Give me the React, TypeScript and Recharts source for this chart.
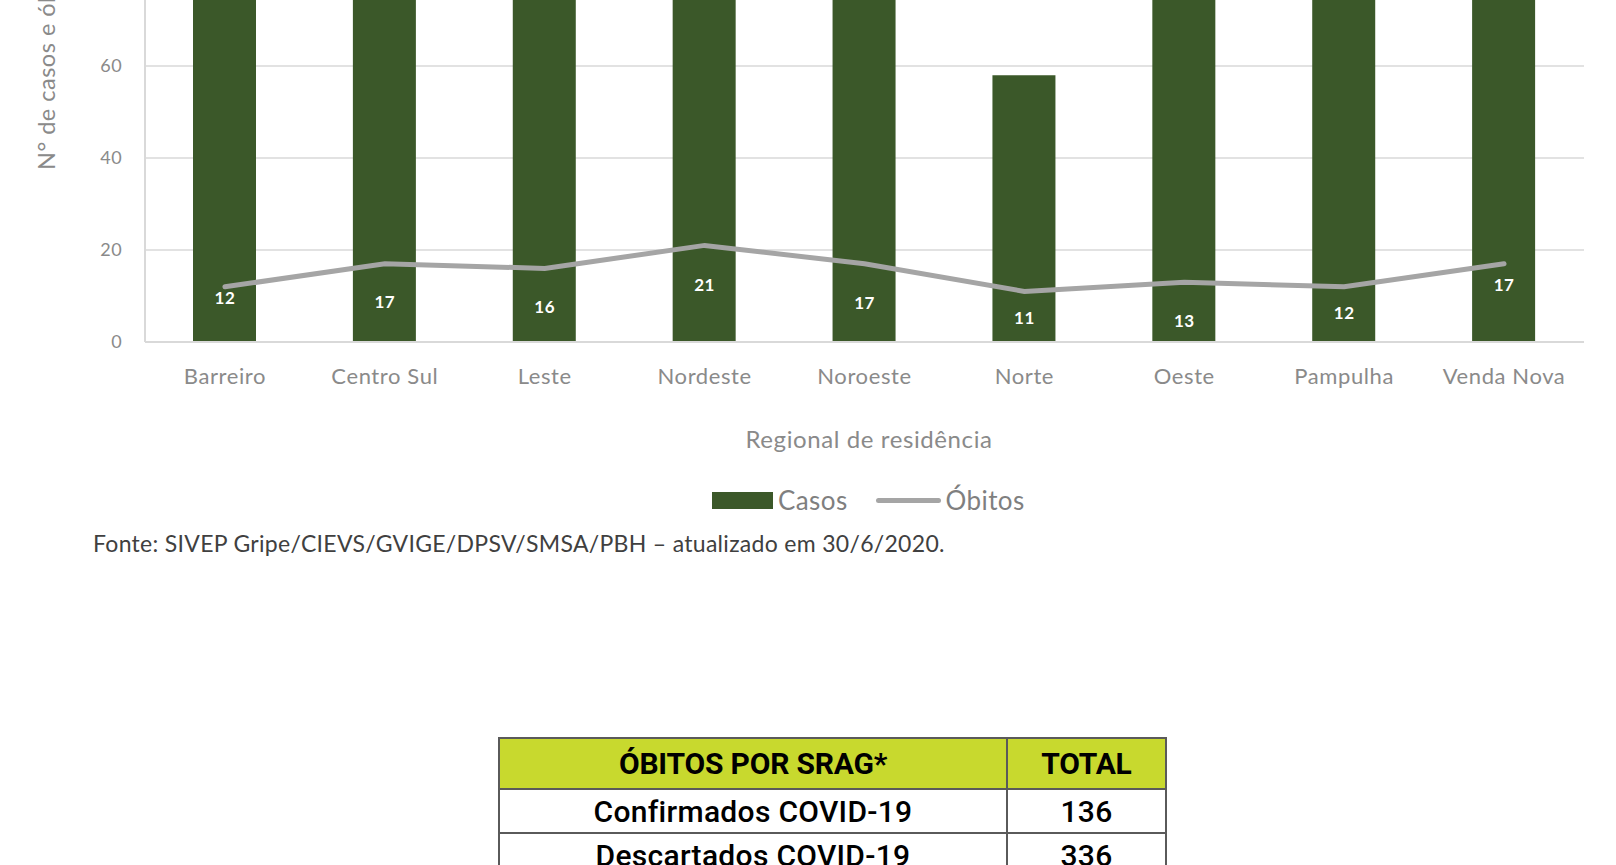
import { ComposedChart, Bar, Line, XAxis, YAxis, CartesianGrid, LabelList } from 'recharts'

// Regional de residência
const regionais = ['Barreiro', 'Centro Sul', 'Leste', 'Nordeste', 'Noroeste', 'Norte', 'Oeste', 'Pampulha', 'Venda Nova']
// casos: only Norte is fully visible, the others run off the top of the crop (estimated)
const casos = [92, 110, 104, 121, 114, 58, 106, 97, 101]
const obitos = [12, 17, 16, 21, 17, 11, 13, 12, 17]
// only the ticks that fall inside the visible part of the page
const yTicks = [0, 20, 40, 60]

const tabelaHeader = ['ÓBITOS POR SRAG*', 'TOTAL']
const tabelaLinhas: [string, number][] = [
  ['Confirmados COVID-19', 136],
  ['Descartados COVID-19', 336],
]

const data = regionais.map((r, i) => ({ regional: r, casos: casos[i], obitos: obitos[i] }))

// the data labels sit below the line, each nudged by hand in the original
const labelNudge: Record<string, number> = {
  Barreiro: 11, 'Centro Sul': 38, Leste: 38, Nordeste: 39, Noroeste: 39,
  Norte: 26, Oeste: 38, Pampulha: 26, 'Venda Nova': 21,
}

const GREEN = '#3b5829'
const GRAY_LINE = '#a5a5a5'
const AXIS_TEXT = '#8a8a8a'
const FONT = 'Lato, "Open Sans", sans-serif'

function ObitoLabel(props: any) {
  const { x, y, value, index } = props
  const dy = labelNudge[regionais[index]] ?? 30
  return (
    <text
      x={x}
      y={y + dy}
      fill="#fff"
      fontSize={17}
      fontWeight={700}
      fontFamily={FONT}
      letterSpacing={0.5}
      textAnchor="middle"
      dominantBaseline="central"
    >
      {value}
    </text>
  )
}

export default function App() {
  return (
    <div style={s.page}>
      <div style={s.chartBox}>
        <ComposedChart width={1616} height={900} data={data} margin={{ top: 28, right: 32, left: 0, bottom: 188 }}>
          <CartesianGrid vertical={false} stroke="#d9d9d9" strokeWidth={1.5} horizontalValues={[0, 20, 40, 60, 80, 100, 120, 140]} />
          <XAxis
            dataKey="regional"
            height={40}
            tickLine={false}
            tickSize={0}
            tickMargin={26}
            axisLine={{ stroke: '#d9d9d9', strokeWidth: 2 }}
            tick={{ fontSize: 22, fill: AXIS_TEXT, fontFamily: FONT, letterSpacing: 0.6 }}
            interval={0}
          />
          <YAxis
            width={145}
            domain={[0, 140]}
            ticks={yTicks}
            tickLine={false}
            tickSize={0}
            tickMargin={23}
            axisLine={{ stroke: '#d9d9d9', strokeWidth: 2 }}
            tick={{ fontSize: 18, fill: AXIS_TEXT, fontFamily: FONT, letterSpacing: 0.4 }}
          />
          <Bar dataKey="casos" fill={GREEN} barSize={63} isAnimationActive={false} />
          <Line
            dataKey="obitos"
            type="linear"
            stroke={GRAY_LINE}
            strokeWidth={5}
            strokeLinecap="round"
            dot={false}
            activeDot={false}
            isAnimationActive={false}
          >
            <LabelList dataKey="obitos" content={ObitoLabel} />
          </Line>
        </ComposedChart>
      </div>

      <svg style={s.overlay} width={1616} height={865}>
        <text
          transform="translate(55,170) rotate(-90)"
          fill={AXIS_TEXT}
          fontSize={23.5}
          fontFamily={FONT}
          letterSpacing={0.5}
        >
          N° de casos e óbitos
        </text>
      </svg>

      <div style={s.xTitle}>Regional de residência</div>

      <div style={s.legend}>
        <span style={s.legendRect} />
        <span style={s.legendText}>Casos</span>
        <span style={s.legendLine} />
        <span style={s.legendText}>Óbitos</span>
      </div>

      <div style={s.fonte}>Fonte: SIVEP Gripe/CIEVS/GVIGE/DPSV/SMSA/PBH – atualizado em 30/6/2020.</div>

      <table style={s.table}>
        <tbody>
          <tr>
            <th style={{ ...s.th, width: 506 }}>{tabelaHeader[0]}</th>
            <th style={s.th}>{tabelaHeader[1]}</th>
          </tr>
          {tabelaLinhas.map(([nome, total]) => (
            <tr key={nome}>
              <td style={s.td}>{nome}</td>
              <td style={s.td}>{total}</td>
            </tr>
          ))}
        </tbody>
      </table>
    </div>
  )
}

const s: Record<string, React.CSSProperties> = {
  page: {
    position: 'fixed',
    top: 0,
    left: 0,
    width: 1616,
    height: 865,
    overflow: 'hidden',
    background: '#fff',
    fontFamily: FONT,
  },
  chartBox: { position: 'absolute', top: -330, left: 0 },
  overlay: { position: 'absolute', top: 0, left: 0, pointerEvents: 'none' },
  xTitle: {
    position: 'absolute',
    left: 0,
    width: 1738,
    top: 424,
    textAlign: 'center',
    fontSize: 24,
    letterSpacing: 0.6,
    color: AXIS_TEXT,
    lineHeight: '30px',
  },
  legend: {
    position: 'absolute',
    left: 712,
    top: 485,
    height: 30,
    display: 'flex',
    alignItems: 'center',
  },
  legendRect: { display: 'inline-block', width: 61, height: 17, background: GREEN },
  legendLine: {
    display: 'inline-block',
    width: 65,
    height: 5,
    borderRadius: 3,
    background: GRAY_LINE,
    marginLeft: 28,
  },
  legendText: { fontSize: 26, letterSpacing: 0.4, color: '#7f7f7f', marginLeft: 5, lineHeight: '30px' },
  fonte: {
    position: 'absolute',
    left: 93,
    top: 528,
    fontSize: 23,
    letterSpacing: 0.3,
    color: '#404040',
    lineHeight: '30px',
    whiteSpace: 'nowrap',
  },
  table: {
    position: 'absolute',
    left: 498,
    top: 737,
    width: 669,
    borderCollapse: 'collapse',
    fontFamily: 'Roboto, sans-serif',
  },
  th: {
    background: '#c8d92e',
    border: '2px solid #5a5a5a',
    height: 49,
    padding: 0,
    fontSize: 30,
    fontWeight: 700,
    color: '#000',
    textAlign: 'center',
    letterSpacing: -0.2,
  },
  td: {
    border: '2px solid #5a5a5a',
    height: 42,
    padding: 0,
    fontSize: 30,
    fontWeight: 500,
    letterSpacing: 0.3,
    color: '#000',
    textAlign: 'center',
    background: '#fff',
  },
}
